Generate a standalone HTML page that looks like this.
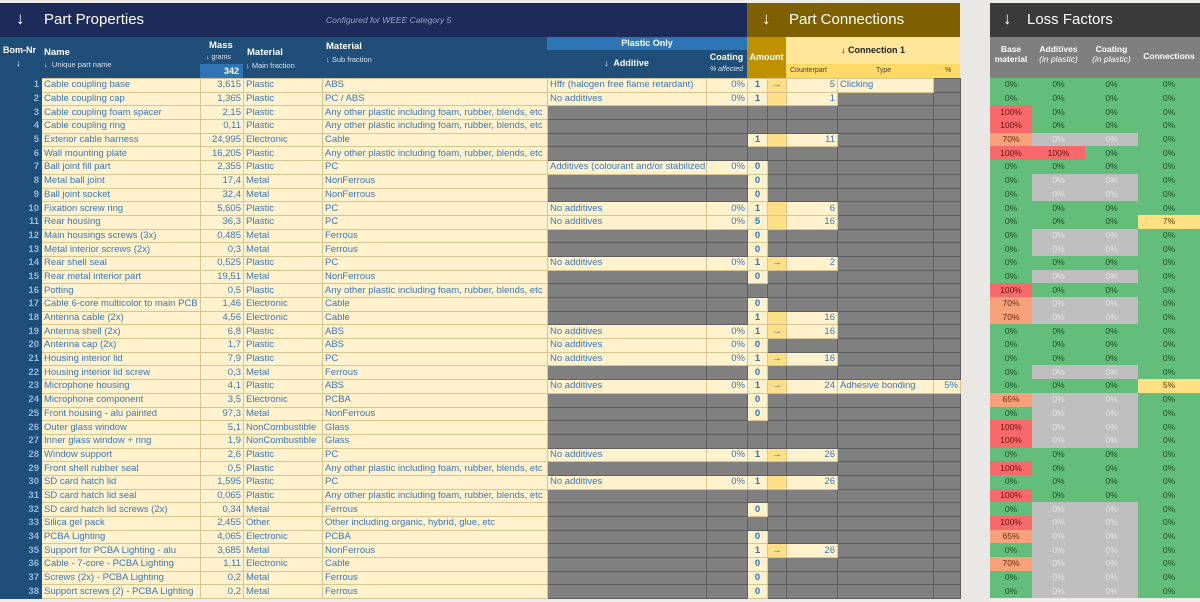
<!DOCTYPE html>
<html><head><meta charset="utf-8">
<style>
body{margin:0;width:1200px;height:602px;background:#eeedea;position:relative;overflow:hidden;font-family:"Liberation Sans",sans-serif}
.ab{position:absolute}
table{border-collapse:collapse;table-layout:fixed;position:absolute;font-size:9.5px}
td{height:12.7px;padding:0 2px;background:#fff2cc;color:#3a78b9;border:1px solid #d9c48f;white-space:nowrap;overflow:hidden;line-height:12px}
td.g{background:#808080;border-color:#5f5f5f}
td.r{text-align:right}
td.n{background:#1f4e79;color:#8fbbe6;text-align:right;border-color:#1f4e79;font-weight:bold}
td.a{text-align:center;font-weight:bold;color:#2e75b6}
td.w{background:#ffdf85;text-align:center;font-weight:bold;color:#2e5f96}
#lf td{text-align:center;color:#1b4d22;border:none;background:#63be7b;height:13.7px;padding:0;line-height:13px}
#lf td.x{background:#bfbfbf;color:#e4e4e4}
#lf td.rd{background:#f8696b;color:#6b1010}
#lf td.o{background:#f8a17a;color:#6b2a10}
#lf td.yl{background:#ffe083;color:#5a4200}
.hw{color:#fff;font-weight:bold;font-size:9px}
.sm{color:#d6e2f0;font-size:7.5px}
</style></head><body>
<div class="ab" style="left:0;top:3px;width:747px;height:34px;background:#1c2b5a"></div>
<div class="ab" style="left:16px;top:9px;color:#fff;font-size:17px;font-weight:bold">↓</div>
<div class="ab" style="left:44px;top:11px;color:#fff;font-size:15px">Part Properties</div>
<div class="ab" style="left:326px;top:15px;color:#9aa6c8;font-size:8.5px;font-style:italic">Configured for WEEE Category 5</div>
<div class="ab" style="left:747px;top:3px;width:213px;height:34px;background:#7f6000"></div>
<div class="ab" style="left:762px;top:9px;color:#fff;font-size:17px;font-weight:bold">↓</div>
<div class="ab" style="left:789px;top:11px;color:#fff;font-size:15px">Part Connections</div>
<div class="ab" style="left:990px;top:3px;width:210px;height:34px;background:#3a3a3a"></div>
<div class="ab" style="left:1003px;top:9px;color:#fff;font-size:17px">↓</div>
<div class="ab" style="left:1027px;top:11px;color:#fff;font-size:15px">Loss Factors</div>

<div class="ab" style="left:0;top:37px;width:747px;height:41px;background:#1f4e79"></div>
<div class="ab hw" style="left:3px;top:45px">Bom-Nr</div>
<div class="ab hw" style="left:16px;top:58px">↓</div>
<div class="ab hw" style="left:44px;top:47px;font-size:9.5px">Name</div>
<div class="ab sm" style="left:44px;top:60px">↓&nbsp; Unique part name</div>
<div class="ab hw" style="left:209px;top:40px;font-size:9.5px">Mass</div>
<div class="ab sm" style="left:206px;top:54px;font-size:7px">↓ grams</div>
<div class="ab hw" style="left:200px;top:64px;width:39px;height:14px;background:#2e75b6;text-align:right;padding-right:4px;line-height:14px">342</div>
<div class="ab hw" style="left:247px;top:47px;font-size:9.5px">Material</div>
<div class="ab sm" style="left:246px;top:61px">↓ Main fraction</div>
<div class="ab hw" style="left:326px;top:41px;font-size:9.5px">Material</div>
<div class="ab sm" style="left:326px;top:55px">↓ Sub fraction</div>
<div class="ab hw" style="left:547px;top:37px;width:200px;height:13px;background:#2e75b6;text-align:center;line-height:13px">Plastic Only</div>
<div class="ab hw" style="left:547px;top:58px;width:159px;text-align:center">↓&nbsp; Additive</div>
<div class="ab hw" style="left:706px;top:52px;width:41px;text-align:center">Coating</div>
<div class="ab sm" style="left:706px;top:66px;width:41px;text-align:center;font-style:italic;font-size:7px">% affected</div>
<div class="ab hw" style="left:747px;top:37px;width:39px;height:41px;background:#bf9000;text-align:center;line-height:40px">Amount</div>
<div class="ab" style="left:786px;top:37px;width:174px;height:27px;background:#ffe699;text-align:center;line-height:27px;font-weight:bold;font-size:9px;color:#222">↓ Connection 1</div>
<div class="ab" style="left:786px;top:64px;width:174px;height:14px;background:#ffd966;font-size:7px;color:#444;line-height:14px">
<span class="ab" style="left:4px">Counterpart</span><span class="ab" style="left:90px">Type</span><span class="ab" style="left:159px">%</span></div>
<div class="ab" style="left:960px;top:0;width:30px;height:602px;background:#e9e8e4"></div>

<div class="ab" style="left:990px;top:37px;width:210px;height:41px;background:#7f7f7f;color:#fff;font-size:8.5px;font-weight:bold;text-align:center">
<div class="ab" style="left:0;top:7px;width:42px">Base<br>material</div>
<div class="ab" style="left:42px;top:7px;width:53px">Additives<br><i style="font-weight:normal">(in plastic)</i></div>
<div class="ab" style="left:95px;top:7px;width:53px">Coating<br><i style="font-weight:normal">(in plastic)</i></div>
<div class="ab" style="left:148px;top:14px;width:62px">Connections</div>
</div>

<table style="left:0;top:78px;width:960px">
<colgroup><col style="width:41px"><col style="width:159px"><col style="width:43px"><col style="width:79px"><col style="width:225px"><col style="width:159px"><col style="width:41px"><col style="width:20px"><col style="width:19px"><col style="width:51px"><col style="width:96px"><col style="width:27px"></colgroup>
<tr><td class=n>1</td><td>Cable coupling base</td><td class=r>3,615</td><td>Plastic</td><td>ABS</td><td>Hffr (halogen free flame retardant)</td><td class=r>0%</td><td class=a>1</td><td class=w>→</td><td class=r>5</td><td>Clicking</td><td class=g></td></tr>
<tr><td class=n>2</td><td>Cable coupling cap</td><td class=r>1,365</td><td>Plastic</td><td>PC / ABS</td><td>No additives</td><td class=r>0%</td><td class=a>1</td><td class=w></td><td class=r>1</td><td class=g></td><td class=g></td></tr>
<tr><td class=n>3</td><td>Cable coupling foam spacer</td><td class=r>2,15</td><td>Plastic</td><td>Any other plastic including foam, rubber, blends, etc</td><td class=g></td><td class=g></td><td class=g></td><td class=g></td><td class=g></td><td class=g></td><td class=g></td></tr>
<tr><td class=n>4</td><td>Cable coupling ring</td><td class=r>0,11</td><td>Plastic</td><td>Any other plastic including foam, rubber, blends, etc</td><td class=g></td><td class=g></td><td class=g></td><td class=g></td><td class=g></td><td class=g></td><td class=g></td></tr>
<tr><td class=n>5</td><td>Exterior cable harness</td><td class=r>24,995</td><td>Electronic</td><td>Cable</td><td class=g></td><td class=g></td><td class=a>1</td><td class=w></td><td class=r>11</td><td class=g></td><td class=g></td></tr>
<tr><td class=n>6</td><td>Wall mounting plate</td><td class=r>16,205</td><td>Plastic</td><td>Any other plastic including foam, rubber, blends, etc</td><td class=g></td><td class=g></td><td class=g></td><td class=g></td><td class=g></td><td class=g></td><td class=g></td></tr>
<tr><td class=n>7</td><td>Ball joint fill part</td><td class=r>2,355</td><td>Plastic</td><td>PC</td><td>Additives (colourant and/or stabilized</td><td class=r>0%</td><td class=a>0</td><td class=g></td><td class=g></td><td class=g></td><td class=g></td></tr>
<tr><td class=n>8</td><td>Metal ball joint</td><td class=r>17,4</td><td>Metal</td><td>NonFerrous</td><td class=g></td><td class=g></td><td class=a>0</td><td class=g></td><td class=g></td><td class=g></td><td class=g></td></tr>
<tr><td class=n>9</td><td>Ball joint socket</td><td class=r>32,4</td><td>Metal</td><td>NonFerrous</td><td class=g></td><td class=g></td><td class=a>0</td><td class=g></td><td class=g></td><td class=g></td><td class=g></td></tr>
<tr><td class=n>10</td><td>Fixation screw ring</td><td class=r>5,605</td><td>Plastic</td><td>PC</td><td>No additives</td><td class=r>0%</td><td class=a>1</td><td class=w></td><td class=r>6</td><td class=g></td><td class=g></td></tr>
<tr><td class=n>11</td><td>Rear housing</td><td class=r>36,3</td><td>Plastic</td><td>PC</td><td>No additives</td><td class=r>0%</td><td class=a>5</td><td class=w></td><td class=r>16</td><td class=g></td><td class=g></td></tr>
<tr><td class=n>12</td><td>Main housings screws (3x)</td><td class=r>0,485</td><td>Metal</td><td>Ferrous</td><td class=g></td><td class=g></td><td class=a>0</td><td class=g></td><td class=g></td><td class=g></td><td class=g></td></tr>
<tr><td class=n>13</td><td>Metal interior screws (2x)</td><td class=r>0,3</td><td>Metal</td><td>Ferrous</td><td class=g></td><td class=g></td><td class=a>0</td><td class=g></td><td class=g></td><td class=g></td><td class=g></td></tr>
<tr><td class=n>14</td><td>Rear shell seal</td><td class=r>0,525</td><td>Plastic</td><td>PC</td><td>No additives</td><td class=r>0%</td><td class=a>1</td><td class=w>→</td><td class=r>2</td><td class=g></td><td class=g></td></tr>
<tr><td class=n>15</td><td>Rear metal interior part</td><td class=r>19,51</td><td>Metal</td><td>NonFerrous</td><td class=g></td><td class=g></td><td class=a>0</td><td class=g></td><td class=g></td><td class=g></td><td class=g></td></tr>
<tr><td class=n>16</td><td>Potting</td><td class=r>0,5</td><td>Plastic</td><td>Any other plastic including foam, rubber, blends, etc</td><td class=g></td><td class=g></td><td class=g></td><td class=g></td><td class=g></td><td class=g></td><td class=g></td></tr>
<tr><td class=n>17</td><td>Cable 6-core multicolor to main PCB</td><td class=r>1,46</td><td>Electronic</td><td>Cable</td><td class=g></td><td class=g></td><td class=a>0</td><td class=g></td><td class=g></td><td class=g></td><td class=g></td></tr>
<tr><td class=n>18</td><td>Antenna cable (2x)</td><td class=r>4,56</td><td>Electronic</td><td>Cable</td><td class=g></td><td class=g></td><td class=a>1</td><td class=w></td><td class=r>16</td><td class=g></td><td class=g></td></tr>
<tr><td class=n>19</td><td>Antenna shell (2x)</td><td class=r>6,8</td><td>Plastic</td><td>ABS</td><td>No additives</td><td class=r>0%</td><td class=a>1</td><td class=w>→</td><td class=r>16</td><td class=g></td><td class=g></td></tr>
<tr><td class=n>20</td><td>Antenna cap (2x)</td><td class=r>1,7</td><td>Plastic</td><td>ABS</td><td>No additives</td><td class=r>0%</td><td class=a>0</td><td class=g></td><td class=g></td><td class=g></td><td class=g></td></tr>
<tr><td class=n>21</td><td>Housing interior lid</td><td class=r>7,9</td><td>Plastic</td><td>PC</td><td>No additives</td><td class=r>0%</td><td class=a>1</td><td class=w>→</td><td class=r>16</td><td class=g></td><td class=g></td></tr>
<tr><td class=n>22</td><td>Housing interior lid screw</td><td class=r>0,3</td><td>Metal</td><td>Ferrous</td><td class=g></td><td class=g></td><td class=a>0</td><td class=g></td><td class=g></td><td class=g></td><td class=g></td></tr>
<tr><td class=n>23</td><td>Microphone housing</td><td class=r>4,1</td><td>Plastic</td><td>ABS</td><td>No additives</td><td class=r>0%</td><td class=a>1</td><td class=w>→</td><td class=r>24</td><td>Adhesive bonding</td><td class=r>5%</td></tr>
<tr><td class=n>24</td><td>Microphone component</td><td class=r>3,5</td><td>Electronic</td><td>PCBA</td><td class=g></td><td class=g></td><td class=a>0</td><td class=g></td><td class=g></td><td class=g></td><td class=g></td></tr>
<tr><td class=n>25</td><td>Front housing - alu painted</td><td class=r>97,3</td><td>Metal</td><td>NonFerrous</td><td class=g></td><td class=g></td><td class=a>0</td><td class=g></td><td class=g></td><td class=g></td><td class=g></td></tr>
<tr><td class=n>26</td><td>Outer glass window</td><td class=r>5,1</td><td>NonCombustible</td><td>Glass</td><td class=g></td><td class=g></td><td class=g></td><td class=g></td><td class=g></td><td class=g></td><td class=g></td></tr>
<tr><td class=n>27</td><td>Inner glass window + ring</td><td class=r>1,9</td><td>NonCombustible</td><td>Glass</td><td class=g></td><td class=g></td><td class=g></td><td class=g></td><td class=g></td><td class=g></td><td class=g></td></tr>
<tr><td class=n>28</td><td>Window support</td><td class=r>2,6</td><td>Plastic</td><td>PC</td><td>No additives</td><td class=r>0%</td><td class=a>1</td><td class=w>→</td><td class=r>26</td><td class=g></td><td class=g></td></tr>
<tr><td class=n>29</td><td>Front shell rubber seal</td><td class=r>0,5</td><td>Plastic</td><td>Any other plastic including foam, rubber, blends, etc</td><td class=g></td><td class=g></td><td class=g></td><td class=g></td><td class=g></td><td class=g></td><td class=g></td></tr>
<tr><td class=n>30</td><td>SD card hatch lid</td><td class=r>1,595</td><td>Plastic</td><td>PC</td><td>No additives</td><td class=r>0%</td><td class=a>1</td><td class=w></td><td class=r>26</td><td class=g></td><td class=g></td></tr>
<tr><td class=n>31</td><td>SD card hatch lid seal</td><td class=r>0,065</td><td>Plastic</td><td>Any other plastic including foam, rubber, blends, etc</td><td class=g></td><td class=g></td><td class=g></td><td class=g></td><td class=g></td><td class=g></td><td class=g></td></tr>
<tr><td class=n>32</td><td>SD card hatch lid screws (2x)</td><td class=r>0,34</td><td>Metal</td><td>Ferrous</td><td class=g></td><td class=g></td><td class=a>0</td><td class=g></td><td class=g></td><td class=g></td><td class=g></td></tr>
<tr><td class=n>33</td><td>Silica gel pack</td><td class=r>2,455</td><td>Other</td><td>Other including organic, hybrid, glue, etc</td><td class=g></td><td class=g></td><td class=g></td><td class=g></td><td class=g></td><td class=g></td><td class=g></td></tr>
<tr><td class=n>34</td><td>PCBA Lighting</td><td class=r>4,065</td><td>Electronic</td><td>PCBA</td><td class=g></td><td class=g></td><td class=a>0</td><td class=g></td><td class=g></td><td class=g></td><td class=g></td></tr>
<tr><td class=n>35</td><td>Support for PCBA Lighting - alu</td><td class=r>3,685</td><td>Metal</td><td>NonFerrous</td><td class=g></td><td class=g></td><td class=a>1</td><td class=w>→</td><td class=r>26</td><td class=g></td><td class=g></td></tr>
<tr><td class=n>36</td><td>Cable - 7-core - PCBA Lighting</td><td class=r>1,11</td><td>Electronic</td><td>Cable</td><td class=g></td><td class=g></td><td class=a>0</td><td class=g></td><td class=g></td><td class=g></td><td class=g></td></tr>
<tr><td class=n>37</td><td>Screws (2x) - PCBA Lighting</td><td class=r>0,2</td><td>Metal</td><td>Ferrous</td><td class=g></td><td class=g></td><td class=a>0</td><td class=g></td><td class=g></td><td class=g></td><td class=g></td></tr>
<tr><td class=n>38</td><td>Support screws (2) - PCBA Lighting</td><td class=r>0,2</td><td>Metal</td><td>Ferrous</td><td class=g></td><td class=g></td><td class=a>0</td><td class=g></td><td class=g></td><td class=g></td><td class=g></td></tr>
</table>

<table id="lf" style="left:990px;top:78px;width:210px;font-size:8.5px">
<colgroup><col style="width:42px"><col style="width:53px"><col style="width:53px"><col style="width:62px"></colgroup>
<tr><td>0%</td><td>0%</td><td>0%</td><td>0%</td></tr>
<tr><td>0%</td><td>0%</td><td>0%</td><td>0%</td></tr>
<tr><td class=rd>100%</td><td>0%</td><td>0%</td><td>0%</td></tr>
<tr><td class=rd>100%</td><td>0%</td><td>0%</td><td>0%</td></tr>
<tr><td class=o>70%</td><td class=x>0%</td><td class=x>0%</td><td>0%</td></tr>
<tr><td class=rd>100%</td><td class=rd>100%</td><td>0%</td><td>0%</td></tr>
<tr><td>0%</td><td>0%</td><td>0%</td><td>0%</td></tr>
<tr><td>0%</td><td class=x>0%</td><td class=x>0%</td><td>0%</td></tr>
<tr><td>0%</td><td class=x>0%</td><td class=x>0%</td><td>0%</td></tr>
<tr><td>0%</td><td>0%</td><td>0%</td><td>0%</td></tr>
<tr><td>0%</td><td>0%</td><td>0%</td><td class=yl>7%</td></tr>
<tr><td>0%</td><td class=x>0%</td><td class=x>0%</td><td>0%</td></tr>
<tr><td>0%</td><td class=x>0%</td><td class=x>0%</td><td>0%</td></tr>
<tr><td>0%</td><td>0%</td><td>0%</td><td>0%</td></tr>
<tr><td>0%</td><td class=x>0%</td><td class=x>0%</td><td>0%</td></tr>
<tr><td class=rd>100%</td><td>0%</td><td>0%</td><td>0%</td></tr>
<tr><td class=o>70%</td><td class=x>0%</td><td class=x>0%</td><td>0%</td></tr>
<tr><td class=o>70%</td><td class=x>0%</td><td class=x>0%</td><td>0%</td></tr>
<tr><td>0%</td><td>0%</td><td>0%</td><td>0%</td></tr>
<tr><td>0%</td><td>0%</td><td>0%</td><td>0%</td></tr>
<tr><td>0%</td><td>0%</td><td>0%</td><td>0%</td></tr>
<tr><td>0%</td><td class=x>0%</td><td class=x>0%</td><td>0%</td></tr>
<tr><td>0%</td><td>0%</td><td>0%</td><td class=yl>5%</td></tr>
<tr><td class=o>65%</td><td class=x>0%</td><td class=x>0%</td><td>0%</td></tr>
<tr><td>0%</td><td class=x>0%</td><td class=x>0%</td><td>0%</td></tr>
<tr><td class=rd>100%</td><td class=x>0%</td><td class=x>0%</td><td>0%</td></tr>
<tr><td class=rd>100%</td><td class=x>0%</td><td class=x>0%</td><td>0%</td></tr>
<tr><td>0%</td><td>0%</td><td>0%</td><td>0%</td></tr>
<tr><td class=rd>100%</td><td>0%</td><td>0%</td><td>0%</td></tr>
<tr><td>0%</td><td>0%</td><td>0%</td><td>0%</td></tr>
<tr><td class=rd>100%</td><td>0%</td><td>0%</td><td>0%</td></tr>
<tr><td>0%</td><td class=x>0%</td><td class=x>0%</td><td>0%</td></tr>
<tr><td class=rd>100%</td><td class=x>0%</td><td class=x>0%</td><td>0%</td></tr>
<tr><td class=o>65%</td><td class=x>0%</td><td class=x>0%</td><td>0%</td></tr>
<tr><td>0%</td><td class=x>0%</td><td class=x>0%</td><td>0%</td></tr>
<tr><td class=o>70%</td><td class=x>0%</td><td class=x>0%</td><td>0%</td></tr>
<tr><td>0%</td><td class=x>0%</td><td class=x>0%</td><td>0%</td></tr>
<tr><td>0%</td><td class=x>0%</td><td class=x>0%</td><td>0%</td></tr>
</table>
</body></html>
